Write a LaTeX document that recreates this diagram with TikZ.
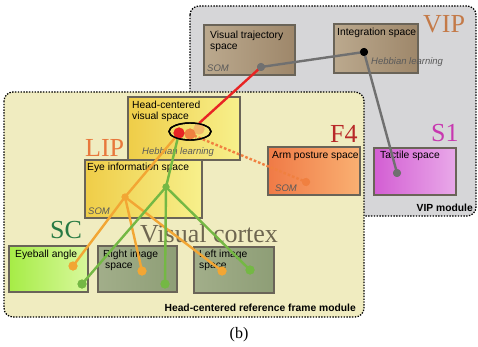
\documentclass[tikz,border=0pt]{standalone}
\usepackage{fontspec}
\setmainfont{Liberation Sans}
\newfontfamily\seriffont{Liberation Serif}
\usetikzlibrary{shapes.geometric}
\definecolor{vipbg}{HTML}{D6D6D8}
\definecolor{hcbg}{HTML}{F0ECC0}
\definecolor{boxedge}{HTML}{6A6458}
\definecolor{somgray}{HTML}{5A5A5A}
\definecolor{linkgray}{HTML}{707070}
\definecolor{linkred}{HTML}{E82424}
\definecolor{linkorange}{HTML}{F2A634}
\definecolor{dotorange}{HTML}{F08040}
\definecolor{linkgreen}{HTML}{74B844}
\definecolor{lightorange}{HTML}{F2B868}
\definecolor{lipcol}{HTML}{E8783C}
\definecolor{vipcol}{HTML}{C47A48}
\definecolor{fourcol}{HTML}{B82828}
\definecolor{sonecol}{HTML}{C838B0}
\definecolor{sccol}{HTML}{287A44}
\definecolor{vccol}{HTML}{6E6650}
\definecolor{tanL}{HTML}{BBA98E}
\definecolor{tanM}{HTML}{D8CBB4}
\definecolor{tanR}{HTML}{9E876A}
\definecolor{yelL}{HTML}{EFCD48}
\definecolor{yelR}{HTML}{F7F08C}
\definecolor{tactL}{HTML}{D35ED3}
\definecolor{tactR}{HTML}{E9A9E9}
\definecolor{armL}{HTML}{F07A46}
\definecolor{armR}{HTML}{F9B072}
\definecolor{ebL}{HTML}{A6EC46}
\definecolor{ebR}{HTML}{D8F89C}
\definecolor{imgL}{HTML}{A2AE8A}
\definecolor{imgM}{HTML}{D6DCC4}
\definecolor{imgR}{HTML}{8E9E76}
\tikzset{
  module/.style={draw=black, line width=1.3pt, dash pattern=on 1.4pt off 1.4pt, rounded corners=9pt},
  box/.style={draw=boxedge, line width=1.2pt, anchor=north west, inner sep=0pt, outer sep=0pt, rectangle},
  brownbox/.style={box, left color=tanL, middle color=tanM, right color=tanR},
  yellowbox/.style={box, left color=yelL, right color=yelR},
  imgbox/.style={box, left color=imgL, middle color=imgM, right color=imgR},
  lbl/.style={anchor=base west, inner sep=0pt, font=\fontsize{10.3}{11}\selectfont, align=left},
  somlbl/.style={anchor=base west, inner sep=0pt, font=\fontsize{9.5}{11}\selectfont\itshape, text=somgray},
  area/.style={anchor=base west, inner sep=0pt, font=\seriffont\fontsize{26}{28}\selectfont},
  modlbl/.style={anchor=base east, inner sep=0pt, font=\fontsize{10.3}{12}\selectfont\bfseries},
  dotnode/.style={circle, inner sep=0pt, minimum size=#1},
  dotnode/.default=8pt,
  link/.style={line width=2.4pt},
  ringstyle/.style={ellipse, draw=black, line width=1.4pt, minimum width=42pt, minimum height=17pt, inner sep=0pt},
}
\begin{document}
\begin{tikzpicture}[x=1pt,y=-1pt]
\useasboundingbox (0,0) rectangle (478,347);
% modules
\path[module, fill=vipbg] (190,6) rectangle (476,216);
\path[module, fill=hcbg] (4,92) rectangle (364,317);
% VIP module boxes
\node[brownbox, minimum width=91pt, minimum height=50pt] (vt) at (204,25) {};
\node[brownbox, minimum width=84pt, minimum height=49pt] (integ) at (334,24) {};
\node[box, left color=tactL, right color=tactR, minimum width=82pt, minimum height=47pt] (tact) at (374,148) {};
% head-centered module boxes
\node[box, left color=armL, right color=armR, minimum width=92pt, minimum height=48pt] (arm) at (268,147) {};
\node[yellowbox, minimum width=112pt, minimum height=63pt] (hcv) at (128,97) {};
\node[yellowbox, minimum width=117pt, minimum height=58pt] (eye) at (85,160) {};
\node[box, left color=ebL, right color=ebR, minimum width=79pt, minimum height=46pt] (eyeball) at (9,246) {};
\node[imgbox, minimum width=79pt, minimum height=46pt] (rimg) at (98,246) {};
\node[imgbox, minimum width=80pt, minimum height=46pt] (limg) at (194,247) {};
% texts (multi-line texts are placed by the baseline of their last line)
\node[lbl] (tvt) at (210,50) {Visual trajectory\\space};
\node[somlbl] (tvtsom) at (207,72) {SOM};
\node[lbl] (tinteg) at (337,36) {Integration space};
\node[somlbl] (theb1) at (371,65) {Hebbian learning};
\node[area, text=vipcol] (tvip) at (423,33) {VIP};
\node[lbl] (thcv) at (132,120) {Head-centered\\visual space};
\node[somlbl] (theb2) at (142,155) {Hebbian learning};
\node[area, text=lipcol] (tlip) at (85,157) {LIP};
\node[lbl] (teye) at (87,171) {Eye information space};
\node[somlbl] (teyesom) at (88,214) {SOM};
\node[area, text=sccol] (tsc) at (50,238) {SC};
\node[area, text=vccol] (tvc) at (140,242) {Visual cortex};
\node[lbl] (teyeball) at (15,257) {Eyeball angle};
\node[lbl] (trimg) at (103,268) {Right image\\\hspace{2pt}space};
\node[lbl] (tlimg) at (199,268) {Left image\\space};
\node[area, text=fourcol] (tf4) at (330,143) {F4};
\node[area, text=sonecol] (ts1) at (431,142) {S1};
\node[lbl] (tarm) at (272,159) {Arm posture space};
\node[somlbl] (tarmsom) at (275,192) {SOM};
\node[lbl] (ttact) at (380,159) {Tactile space};
\node[modlbl] (tvipmod) at (473,211) {VIP module};
\node[modlbl] (thcmod) at (356,311) {Head-centered reference frame module};
\node[anchor=base, inner sep=0pt, font=\seriffont\fontsize{16}{18}\selectfont] (tb) at (239,338) {(b)};
% dots (positions)
\node[dotnode, fill=linkgray] (vtdot) at (261,67) {};
\node[dotnode, fill=black] (intdot) at (364,52) {};
\node[dotnode, fill=linkgray] (tactdot) at (397,173) {};
\node[dotnode, fill=dotorange] (armdot) at (306,182) {};
\node[dotnode=11pt, fill=lightorange] (lodot) at (199,129) {};
\node[dotnode=11pt, fill=dotorange] (odot) at (190,134) {};
\node[dotnode=11pt, fill=linkred] (rdot) at (179,133) {};
\node[ringstyle] (ell) at (190,131.5) {};
\node[dotnode=7pt, fill=linkorange] (eyeo) at (125,197) {};
\node[dotnode=7pt, fill=linkgreen] (eyeg) at (166,187) {};
\node[dotnode=9pt, fill=linkorange] (ebo) at (73,266) {};
\node[dotnode=9pt, fill=linkgreen] (ebg) at (82,284) {};
\node[dotnode=9pt, fill=linkorange] (rio) at (142,271) {};
\node[dotnode=9pt, fill=linkgreen] (rig) at (165,284) {};
\node[dotnode=9pt, fill=linkorange] (lio) at (222,271) {};
\node[dotnode=9pt, fill=linkgreen] (lig) at (250,270) {};
% links
\draw[link, linkgray] (vtdot.center) -- (intdot.center) -- (tactdot.center);
\draw[link, linkred] (vtdot.center) -- (ell);
\draw[link, dotorange, dash pattern=on 2.6pt off 2pt] (odot.center) -- (armdot.center);
\draw[link, linkorange] (eyeo.center) -- (rdot.center);
\draw[link, linkgreen] (rdot.center) -- (eyeg.center);
\draw[link, linkorange] (eyeo.center) -- (ebo.center);
\draw[link, linkorange] (eyeo.center) -- (rio.center);
\draw[link, linkorange] (eyeo.center) -- (lio.center);
\draw[link, linkgreen] (eyeg.center) -- (ebg.center);
\draw[link, linkgreen] (eyeg.center) -- (rig.center);
\draw[link, linkgreen] (eyeg.center) -- (lig.center);
% redraw dots over links
\node[dotnode, fill=linkgray] at (vtdot) {};
\node[dotnode, fill=black] at (intdot) {};
\node[dotnode, fill=linkgray] at (tactdot) {};
\node[dotnode, fill=dotorange] at (armdot) {};
\node[dotnode=11pt, fill=lightorange] at (lodot) {};
\node[dotnode=11pt, fill=dotorange] at (odot) {};
\node[dotnode=11pt, fill=linkred] at (rdot) {};
\node[ringstyle] at (ell) {};
\foreach \n/\c in {eyeo/linkorange, eyeg/linkgreen} \node[dotnode=7pt, fill=\c] at (\n) {};
\foreach \n/\c in {ebo/linkorange, ebg/linkgreen, rio/linkorange, rig/linkgreen, lio/linkorange, lig/linkgreen} \node[dotnode=9pt, fill=\c] at (\n) {};
\end{tikzpicture}
\end{document}
